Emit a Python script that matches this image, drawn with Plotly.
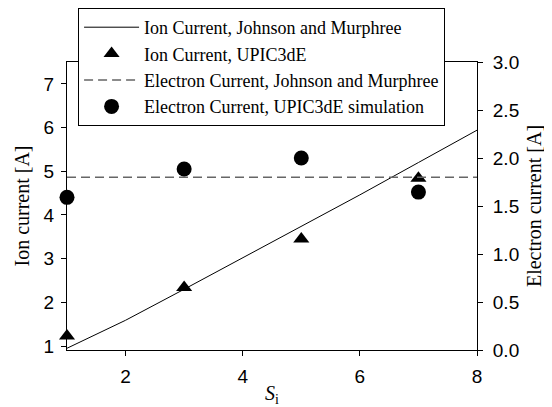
import plotly.graph_objects as go

# Data
si_curve = [1, 2, 3, 4, 5, 6, 7, 8]
ion_jm = [0.95, 1.59, 2.30, 3.02, 3.73, 4.46, 5.20, 5.94]

si_sim = [1, 3, 5, 7]
ion_upic = [1.23, 2.34, 3.45, 4.84]

si_e_line = [1, 8]
elec_jm = [1.8, 1.8]

elec_upic = [1.59, 1.885, 2.0, 1.645]

x_ticks = [2, 4, 6, 8]
ion_ticks = [1, 2, 3, 4, 5, 6, 7]
elec_ticks = [0.0, 0.5, 1.0, 1.5, 2.0, 2.5, 3.0]

serif = "Liberation Serif, Times New Roman, serif"
sans = "Liberation Sans, Arial, sans-serif"

fig = go.Figure()
fig.add_trace(go.Scatter(x=si_curve, y=ion_jm, mode="lines",
                         line=dict(color="black", width=1),
                         name="Ion Current, Johnson and Murphree"))
fig.add_trace(go.Scatter(x=si_sim, y=ion_upic, mode="markers", cliponaxis=False,
                         marker=dict(symbol="triangle-up", size=14, color="black"),
                         name="Ion Current, UPIC3dE"))
fig.add_trace(go.Scatter(x=si_e_line, y=elec_jm, mode="lines", yaxis="y2",
                         line=dict(color="#666666", width=1.5, dash="9px,5px"),
                         name="Electron Current, Johnson and Murphree"))
fig.add_trace(go.Scatter(x=si_sim, y=elec_upic, mode="markers", yaxis="y2", cliponaxis=False,
                         marker=dict(symbol="circle", size=15, color="black"),
                         name="Electron Current, UPIC3dE simulation"))

axis_common = dict(showgrid=False, zeroline=False, showline=True, linecolor="black",
                   linewidth=1, ticks="outside", ticklen=5, tickcolor="black",
                   automargin=False,
                   tickfont=dict(family=sans, size=19, color="black"))

# The page body adds an 8px offset, so the figure is sized to fit the window.
fig.update_layout(
    width=544, height=399,
    margin=dict(l=59, r=75, t=54, b=57, autoexpand=False),
    paper_bgcolor="white", plot_bgcolor="white",
    showlegend=True,
    legend=dict(x=0.027, y=1.1875, xanchor="left", yanchor="top",
                bgcolor="white", bordercolor="black", borderwidth=1,
                font=dict(family=serif, size=18, color="black"),
                itemwidth=55, tracegroupgap=0),
    xaxis=dict(range=[1, 8], tickvals=x_ticks, mirror=True, ticklabelstandoff=4,
               title=dict(text="<i>S</i><sub>i</sub>",
                          font=dict(family=serif, size=20, color="black"), standoff=2),
               **axis_common),
    yaxis=dict(range=[0.91, 7.5], tickvals=ion_ticks, ticklabelstandoff=3,
               title=dict(text="Ion current [A]",
                          font=dict(family=serif, size=20, color="black"), standoff=8),
               **axis_common),
    yaxis2=dict(range=[0, 3], tickvals=elec_ticks, tickformat=".1f", ticklabelstandoff=6,
                overlaying="y", side="right",
                title=dict(text="Electron current [A]",
                           font=dict(family=serif, size=20, color="black"), standoff=8),
                **axis_common),
)

fig.write_html("out.html")
